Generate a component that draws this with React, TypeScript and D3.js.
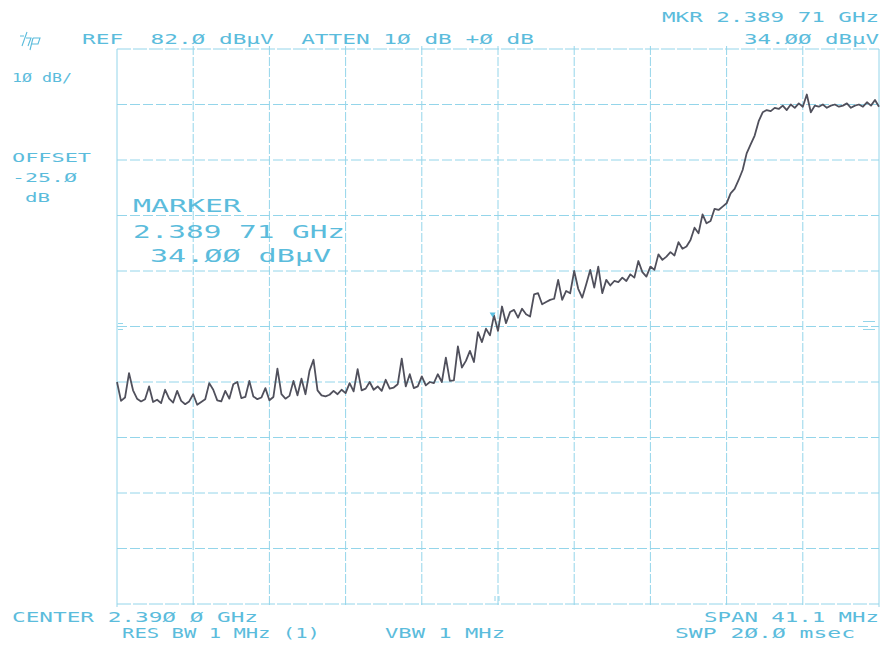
import React from "react";
import * as d3 from "d3";

// ---- Data ----
const centerGHz = 2.39;
const spanGHz = 0.0411;
const refLevel = 82; // dBμV at top graticule
const dbPerDiv = 10;
const markerGHz = 2.38971;
const markerDb = 34.0;

// Trace amplitude (dBμV) at evenly spaced sweep points across the span
const traceDb: number[] = [
  22.0, 18.6, 19.2, 23.6, 20.5, 19.0, 18.5, 18.9, 21.2, 18.4,
  18.8, 18.2, 20.6, 19.0, 18.3, 20.4, 18.6, 18.0, 18.5, 19.8,
  17.9, 18.4, 18.9, 21.8, 20.6, 18.7, 18.5, 20.4, 19.0, 21.6,
  22.0, 19.1, 19.3, 22.2, 19.4, 18.9, 19.2, 20.9, 18.7, 19.3,
  24.4, 19.8, 19.0, 19.5, 22.2, 19.6, 22.6, 19.8, 24.0, 26.0,
  20.5, 19.6, 19.4, 19.7, 20.4, 19.8, 20.6, 20.0, 21.8, 20.3,
  24.3, 20.5, 20.8, 22.0, 20.6, 21.2, 20.4, 22.4, 20.8, 21.0,
  21.6, 26.2, 21.2, 23.4, 20.9, 21.2, 23.0, 21.4, 22.0, 21.8,
  23.4, 22.0, 26.4, 22.2, 22.3, 28.4, 24.6, 25.8, 27.6, 25.6,
  31.0, 29.2, 31.6, 30.4, 34.0, 31.2, 35.6, 32.6, 34.6, 35.0,
  33.6, 35.2, 34.2, 33.8, 37.8, 38.0, 36.0, 36.4, 36.8, 37.0,
  40.4, 36.8, 38.4, 38.0, 42.0, 38.8, 37.2, 39.6, 42.2, 39.0,
  42.8, 38.0, 40.4, 39.4, 40.2, 40.0, 40.8, 40.2, 41.4, 40.8,
  43.8, 41.8, 41.0, 42.8, 42.2, 45.0, 44.0, 44.6, 45.4, 44.8,
  47.2, 46.0, 46.4, 47.6, 49.8, 48.8, 52.2, 50.6, 51.0, 53.2,
  53.0, 53.6, 54.2, 56.0, 56.8, 58.4, 60.2, 63.2, 64.8, 66.4,
  69.0, 70.6, 71.0, 70.8, 71.4, 71.2, 71.8, 71.0, 72.0, 71.4,
  72.2, 71.6, 73.8, 70.6, 71.8, 71.6, 72.0, 71.4, 71.8, 72.0,
  71.6, 71.8, 72.2, 71.4, 71.8, 72.0, 71.6, 72.4, 71.8, 72.8,
  71.6,
];

const headerLeft = "REF  82.Ø dBμV  ATTEN 1Ø dB +Ø dB";
const mkrLine1 = "MKR 2.389 71 GHz";
const mkrLine2 = "34.ØØ dBμV";
const scaleLabel = "1Ø dB/";
const offsetLines = ["OFFSET", "-25.Ø", "dB"];
const markerBlock = ["MARKER", "2.389 71 GHz", "34.ØØ dBμV"];
const footerLeft1 = "CENTER 2.39Ø Ø GHz";
const footerLeft2 = "RES BW 1 MHz (1)";
const footerMid2 = "VBW 1 MHz";
const footerRight1 = "SPAN 41.1 MHz";
const footerRight2 = "SWP 2Ø.Ø msec";

const W = 883;
const H = 650;
const plot = { left: 117, right: 879, top: 49, bottom: 604 };

const gridColor = "#94d5ea";
const textColor = "#5bbcdc";
const traceColor = "#50505c";

export default function App() {
  const f0 = centerGHz - spanGHz / 2;
  const f1 = centerGHz + spanGHz / 2;
  const x = d3.scaleLinear().domain([f0, f1]).range([plot.left, plot.right]);
  const y = d3
    .scaleLinear()
    .domain([refLevel - dbPerDiv * 10, refLevel])
    .range([plot.bottom, plot.top]);

  const n = traceDb.length;
  const pts: [number, number][] = traceDb.map((v, i) => [
    f0 + (i * spanGHz) / (n - 1),
    v,
  ]);
  const line = d3
    .line<[number, number]>()
    .x((d) => x(d[0]))
    .y((d) => y(d[1]));

  const vTicks = d3.range(11).map((k) => f0 + (k * spanGHz) / 10);
  const hTicks = d3.range(11).map((k) => refLevel - k * dbPerDiv);

  const font = "'DejaVu Sans Mono', 'Liberation Mono', monospace";

  const T = (
    s: string,
    xx: number,
    yy: number,
    len: number,
    size: number,
    key?: string
  ) => (
    <text
      key={key ?? s + xx + yy}
      x={xx}
      y={yy}
      textLength={len}
      lengthAdjust="spacingAndGlyphs"
      fontSize={size}
      fontFamily={font}
      fill={textColor}
      style={{ whiteSpace: "pre" }}
    >
      {s}
    </text>
  );

  return (
    <svg width={W} height={H} style={{ position: "absolute", left: 0, top: 0, background: "#fff" }}>
      <rect x={0} y={0} width={W} height={H} fill="#ffffff" />
      {/* grid */}
      <g stroke={gridColor} strokeWidth={1} fill="none">
        {vTicks.map((f, i) => (
          <line
            key={"v" + i}
            x1={x(f)}
            x2={x(f)}
            y1={y(refLevel) - (i === 0 || i === 10 ? 0 : 3)}
            y2={y(refLevel - 100) + 3}
            strokeDasharray={i === 0 || i === 10 ? undefined : "9 2"}
          />
        ))}
        {hTicks.map((v, i) => (
          <line
            key={"h" + i}
            x1={plot.left}
            x2={plot.right}
            y1={y(v)}
            y2={y(v)}
            strokeDasharray={i === 0 || i === 10 ? "14 2" : "10 3"}
          />
        ))}
        {/* center graticule marks */}
        <line x1={plot.left + 1} x2={plot.left + 6} y1={y(32) - 3} y2={y(32) - 3} />
        <line x1={plot.left + 1} x2={plot.left + 6} y1={y(32) + 3} y2={y(32) + 3} />
        <line x1={plot.right - 16} x2={plot.right - 4} y1={y(32) - 5} y2={y(32) - 5} />
        <line x1={plot.right - 16} x2={plot.right - 4} y1={y(32) + 3} y2={y(32) + 3} />
        <line x1={x(centerGHz) - 3} x2={x(centerGHz) - 3} y1={plot.bottom - 8} y2={plot.bottom - 3} />
        <line x1={x(centerGHz) + 1} x2={x(centerGHz) + 1} y1={plot.bottom - 8} y2={plot.bottom - 3} />
      </g>

      {/* trace */}
      <path
        d={line(pts) ?? ""}
        fill="none"
        stroke={traceColor}
        strokeWidth={1.8}
        strokeLinejoin="round"
      />
      {/* marker */}
      <path
        d={`M${x(markerGHz) - 3},${y(markerDb) - 3}L${x(markerGHz) + 3},${y(markerDb) - 3}L${x(markerGHz)},${y(markerDb) + 2}Z`}
        fill="#5bbfe0"
      />

      {/* hp logo */}
      <g fill="none" stroke={textColor} strokeWidth={1.1}>
        <path d="M27,32 L22,46 M26,38 L31,38 L28,46 M33,38 L30,50 M33,38 L40,38 L38,44 L31,44 M20,36 L24,36" />
      </g>

      {T(headerLeft, 82, 44, 452, 14)}
      {T(mkrLine1, 662, 22, 217, 14)}
      {T(mkrLine2, 744, 44, 135, 14)}
      {T(scaleLabel, 12, 82, 60, 13)}
      {T(offsetLines[0], 12, 162, 79, 13)}
      {T(offsetLines[1], 12, 182, 65, 13)}
      {T(offsetLines[2], 25, 202, 25, 13)}
      {T(markerBlock[0], 133, 212, 108, 18)}
      {T(markerBlock[1], 133, 238, 212, 18)}
      {T(markerBlock[2], 150, 262, 181, 18)}
      {T(footerLeft1, 12, 622, 246, 14)}
      {T(footerLeft2, 122, 638, 198, 14)}
      {T(footerMid2, 385, 638, 120, 14)}
      {T(footerRight1, 704, 622, 175, 14)}
      {T(footerRight2, 675, 638, 180, 14)}
    </svg>
  );
}
